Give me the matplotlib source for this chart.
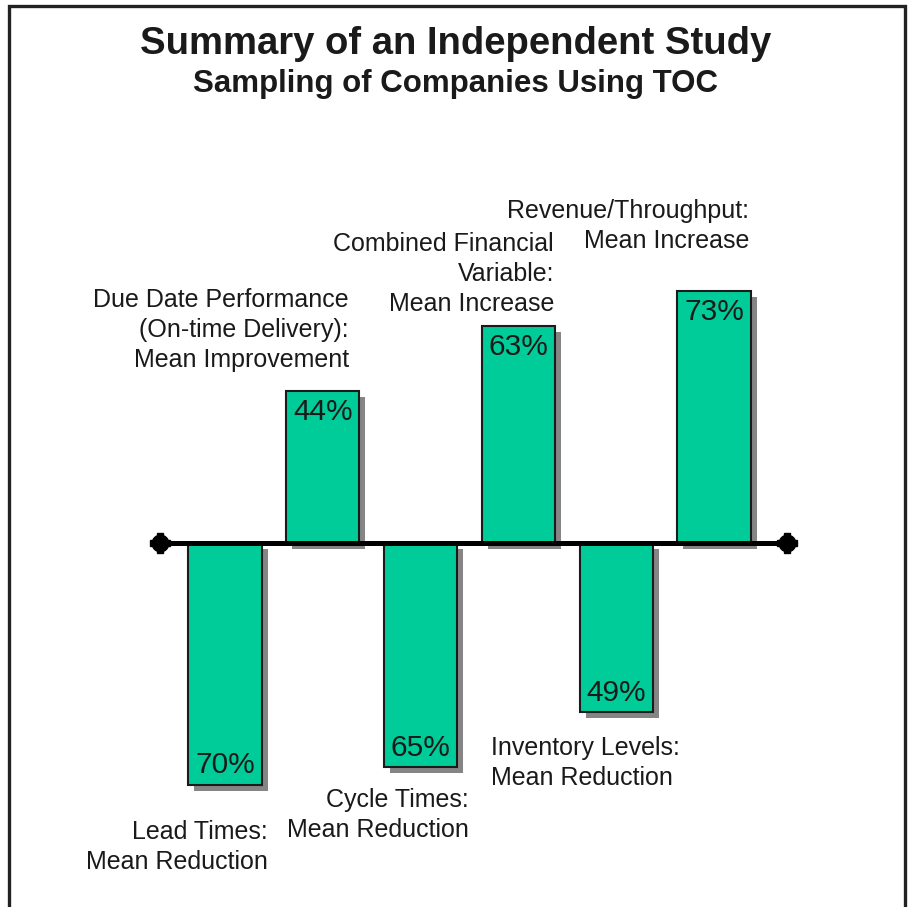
import matplotlib
matplotlib.use("Agg")
import matplotlib.pyplot as plt
from matplotlib.patches import Rectangle
import numpy as np

plt.rcParams['font.family'] = ['Liberation Sans', 'DejaVu Sans']

# ---- data ----
categories = [
    "Lead Times:\nMean Reduction",
    "Due Date Performance\n(On-time Delivery):\nMean Improvement",
    "Cycle Times:\nMean Reduction",
    "Combined Financial\nVariable:\nMean Increase",
    "Inventory Levels:\nMean Reduction",
    "Revenue/Throughput:\nMean Increase",
]
values = [-70, 44, -65, 63, -49, 73]
pct_labels = ["70%", "44%", "65%", "63%", "49%", "73%"]
title = "Summary of an Independent Study"
subtitle = "Sampling of Companies Using TOC"

# ---- layout (pixel-based) ----
W, H = 909, 907
fig = plt.figure(figsize=(W / 100, H / 100), dpi=100)
ax = fig.add_axes([0, 0, 1, 1])
step = 97.8          # px per category
x0 = 225.0           # px of first bar center
s = 3.45             # px per unit
axis_py = 543.0      # px from top of zero line
ax.set_xlim(-x0 / step, (W - x0) / step)
ax.set_ylim(-(H - axis_py) / s, axis_py / s)
ax.axis('off')

def py2y(py):
    return (axis_py - py) / s

def px2x(px):
    return (px - x0) / step

x = np.arange(len(values))
bw = 0.75
dx, dy = 6 / step, 6 / s

# shadows
ax.bar(x + dx, values, width=bw, bottom=-dy, color='#858585', zorder=1, linewidth=0)
# bars
ax.bar(x, values, width=bw, color='#00CC99', edgecolor='#1a1a1a', linewidth=1.5, zorder=2)

# zero axis line with end blobs
xa = [px2x(160), px2x(787)]
ax.plot(xa, [0, 0], color='black', lw=3.6, zorder=3, solid_capstyle='butt')
ax.plot(xa, [0, 0], ls='none', marker='o', ms=12, color='black', zorder=4)
ax.plot(xa, [0, 0], ls='none', marker='P', ms=14, color='black', zorder=4)

# percent labels inside bars
for xi, v, t in zip(x, values, pct_labels):
    if v > 0:
        ax.annotate(t, (xi, v), xytext=(0, -5), textcoords='offset points',
                    ha='center', va='top', fontsize=21.5, color='#1a1a1a', zorder=5)
    else:
        ax.annotate(t, (xi, v), xytext=(0, 8), textcoords='offset points',
                    ha='center', va='baseline', fontsize=21.5, color='#1a1a1a', zorder=5)

# category labels (px anchors)
label_pos = [
    (268, 847, 'right'),
    (349, 330, 'right'),
    (469, 815, 'right'),
    (554, 274, 'right'),
    (491, 763, 'left'),
    (749, 226, 'right'),
]
for (lx, ly, ha), txt in zip(label_pos, categories):
    ax.text(px2x(lx), py2y(ly), txt, ha=ha, va='center', fontsize=18,
            color='#1a1a1a', linespacing=1.32, zorder=5)

# titles
fig.text(456 / W, 1 - 44 / H, title, ha='center', va='center',
         fontsize=27.5, fontweight='bold', color='#1a1a1a')
fig.text(456 / W, 1 - 84 / H, subtitle, ha='center', va='center',
         fontsize=22.5, fontweight='bold', color='#1a1a1a')

# border
fig.patches.append(Rectangle((9 / W, -0.05), (905 - 9) / W, 1.05 - 6 / H,
                             transform=fig.transFigure, fill=False,
                             edgecolor='#222222', linewidth=2.4, clip_on=False))

fig.savefig('out.png', dpi=100)
